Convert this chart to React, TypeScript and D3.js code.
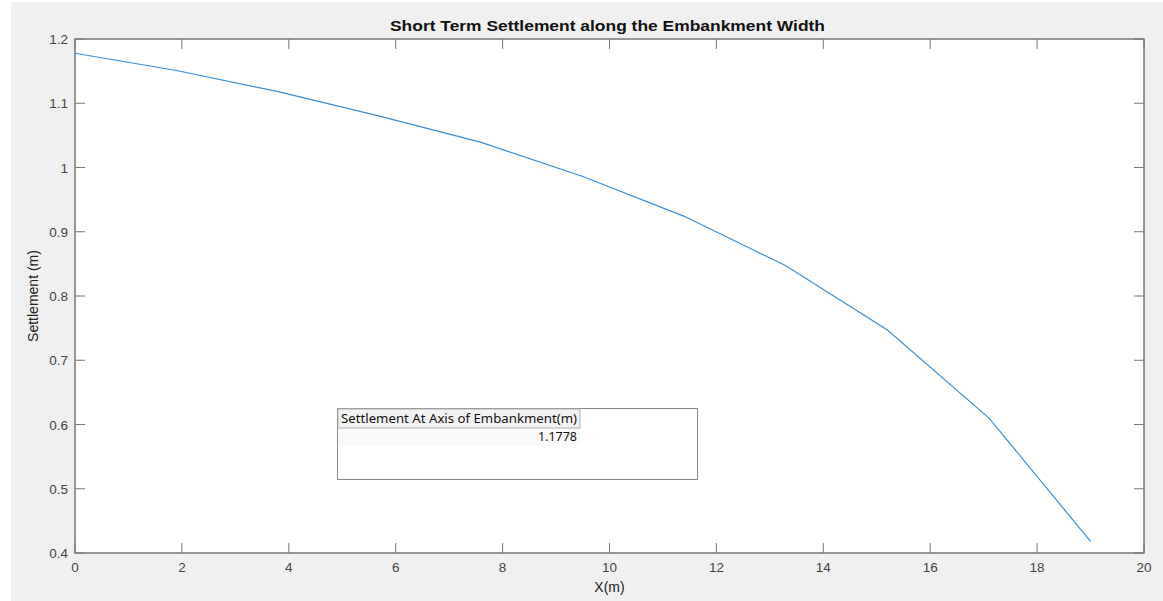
import React from "react";
import { scaleLinear, line } from "d3";

const xValues = [0, 1.9, 3.8, 5.7, 7.6, 9.5, 11.4, 13.3, 15.2, 17.1, 19];
const settlement = [1.1778, 1.151, 1.118, 1.08, 1.039, 0.986, 0.924, 0.847, 0.747, 0.61, 0.418];
const xTicks = [0, 2, 4, 6, 8, 10, 12, 14, 16, 18, 20];
const yTicks = [0.4, 0.5, 0.6, 0.7, 0.8, 0.9, 1, 1.1, 1.2];
const tableHeader = "Settlement At Axis of Embankment(m)";
const tableValue = "1.1778";

const W = 1163;
const H = 601;
const left = 75;
const right = 1144;
const top = 39;
const bottom = 553;
const tick = 10;

const App: React.FC = () => {
  const x = scaleLinear().domain([0, 20]).range([left, right]);
  const y = scaleLinear().domain([0.4, 1.2]).range([bottom, top]);
  const path = line<number>()
    .x((_, i) => x(xValues[i]))
    .y((d) => y(d))(settlement);

  const axisColor = "#777";
  const labelColor = "#444";
  const font = "'Liberation Sans', Arial, sans-serif";
  const tableFont = "'Noto Sans', 'Open Sans', sans-serif";

  return (
    <div style={{ position: "absolute", left: 0, top: 0 }}>
      <svg width={W} height={H} style={{ display: "block" }}>
        <rect x={0} y={0} width={W} height={H} fill="#fff" />
        <rect x={11} y={2} width={W - 11} height={H - 2} fill="#f0f0f0" />
        <rect x={left} y={top} width={right - left} height={bottom - top} fill="#fff" />

        {/* ticks on all four sides, pointing in */}
        <g stroke={axisColor} strokeWidth={1}>
          {xTicks.map((t) => (
            <g key={"xt" + t}>
              <line x1={x(t)} x2={x(t)} y1={bottom} y2={bottom - tick} />
              <line x1={x(t)} x2={x(t)} y1={top} y2={top + tick} />
            </g>
          ))}
          {yTicks.map((t) => (
            <g key={"yt" + t}>
              <line x1={left} x2={left + tick} y1={y(t)} y2={y(t)} />
              <line x1={right} x2={right - tick} y1={y(t)} y2={y(t)} />
            </g>
          ))}
        </g>

        <path d={path || ""} fill="none" stroke="#3a8fd4" strokeWidth={1.2} />

        <rect
          x={left}
          y={top}
          width={right - left}
          height={bottom - top}
          fill="none"
          stroke={axisColor}
          strokeWidth={1.5}
        />

        <g fontFamily={font} fontSize={13.5} fill={labelColor}>
          {xTicks.map((t) => (
            <text key={"xl" + t} x={x(t)} y={bottom + 19} textAnchor="middle">
              {t}
            </text>
          ))}
          {yTicks.map((t) => (
            <text key={"yl" + t} x={left - 7} y={y(t) + 5} textAnchor="end">
              {String(+t.toFixed(1))}
            </text>
          ))}
        </g>

        <text
          x={390}
          y={31}
          fontFamily={font}
          fontWeight="bold"
          fontSize={14.5}
          fill="#111"
          textLength={435}
          lengthAdjust="spacingAndGlyphs"
        >
          Short Term Settlement along the Embankment Width
        </text>
        <text
          x={(left + right) / 2}
          y={592}
          textAnchor="middle"
          fontFamily={font}
          fontSize={14}
          fill="#222"
        >
          X(m)
        </text>
        <text
          transform={`translate(38,${(top + bottom) / 2}) rotate(-90)`}
          textAnchor="middle"
          fontFamily={font}
          fontSize={14}
          fill="#222"
        >
          Settlement (m)
        </text>

        {/* uitable */}
        <g>
          <rect x={337.5} y={408.5} width={360} height={71} fill="#fff" stroke="#8a8a8a" strokeWidth={1} />
          <rect x={338} y={409} width={242} height={19} fill="#f2f2f2" stroke="#b0b0b0" strokeWidth={1} />
          <rect x={338} y={429} width={242} height={17} fill="#fafafa" />
          <text
            x={341}
            y={423}
            fontFamily={tableFont}
            fontSize={12.5}
            fill="#111"
            textLength={236}
            lengthAdjust="spacingAndGlyphs"
          >
            {tableHeader}
          </text>
          <text x={577} y={441} textAnchor="end" fontFamily={tableFont} fontSize={12.5} fill="#111">
            {tableValue}
          </text>
        </g>
      </svg>
    </div>
  );
};

export default App;
